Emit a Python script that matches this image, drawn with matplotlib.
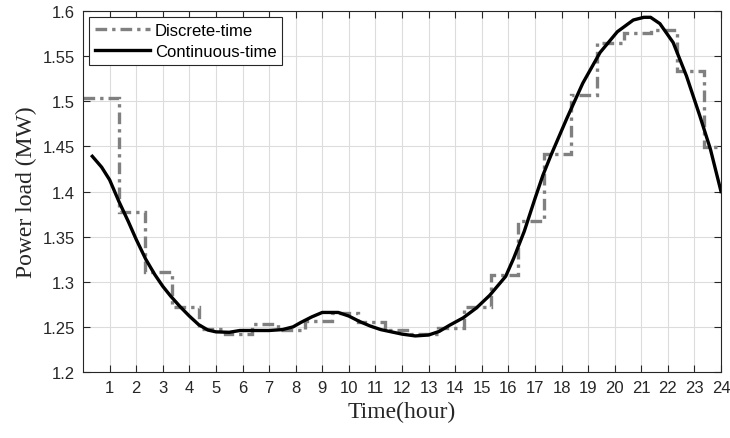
import numpy as np
import matplotlib
matplotlib.use("Agg")
import matplotlib.pyplot as plt

# discrete-time load, one value per hour step (step edges in hours)
disc_edges = [0, 1.35, 2.35, 3.35, 4.35, 5.35, 6.35, 7.35, 8.35, 9.35, 10.35, 11.35,
              12.35, 13.35, 14.35, 15.35, 16.35, 17.35, 18.35, 19.35, 20.35, 21.35,
              22.35, 23.35, 24]
disc_load = [1.504, 1.3775, 1.311, 1.272, 1.248, 1.242, 1.253, 1.246, 1.257, 1.265,
             1.255, 1.246, 1.242, 1.249, 1.272, 1.308, 1.3675, 1.4415, 1.507, 1.564,
             1.5756, 1.579, 1.533, 1.449]

# continuous-time load
cont_t = [0.35, 0.7, 1.0, 1.35, 1.7, 2.0, 2.36, 2.7, 3.0, 3.3, 3.65, 4.0, 4.35,
          4.7, 5.0, 5.5, 5.9, 6.5, 7.0, 7.5, 7.9, 8.2, 8.6, 9.0, 9.6, 10.0, 10.4,
          10.8, 11.2, 11.6, 12.0, 12.5, 13.0, 13.4, 13.8, 14.3, 14.8, 15.3, 15.9,
          16.2, 16.6, 17.0, 17.3, 17.6, 18.2, 18.8, 19.45, 20.1, 20.7, 21.1, 21.35,
          21.7, 22.2, 22.7, 23.2, 23.6, 24.0]
cont_load = [1.439, 1.427, 1.413, 1.389, 1.367, 1.347, 1.325, 1.308, 1.295, 1.284,
             1.2725, 1.262, 1.2525, 1.2465, 1.2445, 1.244, 1.246, 1.246, 1.246,
             1.247, 1.250, 1.255, 1.261, 1.266, 1.266, 1.262, 1.256, 1.251, 1.247,
             1.2445, 1.242, 1.240, 1.241, 1.245, 1.252, 1.260, 1.271, 1.285, 1.306,
             1.326, 1.356, 1.392, 1.418, 1.440, 1.481, 1.520, 1.554, 1.577, 1.590,
             1.593, 1.593, 1.586, 1.565, 1.528, 1.484, 1.447, 1.400]

y_ticks = [1.2, 1.25, 1.3, 1.35, 1.4, 1.45, 1.5, 1.55, 1.6]
y_labels = ["1.2", "1.25", "1.3", "1.35", "1.4", "1.45", "1.5", "1.55", "1.6"]
x_ticks = list(range(1, 25))

plt.rcParams['font.family'] = ['Liberation Sans', 'DejaVu Sans']

fig = plt.figure(figsize=(7.3, 4.39), dpi=100)
ax = fig.add_axes([0.1137, 0.1503, 0.874, 0.8224])

ax.stairs(disc_load, disc_edges, color='#808080', lw=2.4,
          linestyle=(0, (3.5, 1.5, 1, 1.5)), baseline=None, label='Discrete-time')
ax.plot(cont_t, cont_load, color='black', lw=2.4, label='Continuous-time')

ax.set_xlim(0, 24)
ax.set_ylim(1.2, 1.6)
ax.set_xticks(x_ticks)
ax.set_yticks(y_ticks)
ax.set_yticklabels(y_labels)
ax.tick_params(direction='in', top=True, right=True, labelsize=12, length=5,
               width=0.8, color='#262626', labelcolor='#262626', pad=6)
ax.grid(True, color='#dcdcdc', lw=0.8)
ax.set_axisbelow(True)
for s in ax.spines.values():
    s.set_color('#262626')
    s.set_linewidth(0.8)

ax.set_xlabel('Time(hour)', family='Liberation Serif', fontsize=17, color='#262626')
ax.set_ylabel('Power load (MW)', family='Liberation Serif', fontsize=17, color='#262626')

leg = ax.legend(loc='upper left', fontsize=12, fancybox=False, framealpha=1,
                edgecolor='#262626', borderpad=0.35, handlelength=3.3,
                handletextpad=0.3, labelspacing=0.4, borderaxespad=0.35)
leg.get_frame().set_linewidth(0.8)

fig.savefig('out.png', dpi=100)
